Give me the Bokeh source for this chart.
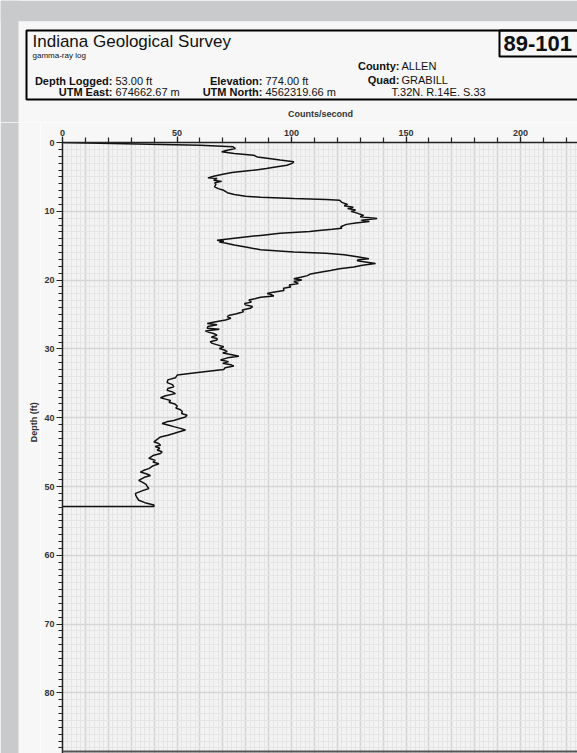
import math
from bokeh.plotting import figure
from bokeh.layouts import column, row
from bokeh.models import Range1d, SingleIntervalTicker, Label, Span
from bokeh.embed import file_html
from bokeh.resources import INLINE

# ---------------- data ----------------
depth_ft = [
    0.0, 0.4, 0.63, 0.87, 1.2, 1.36, 1.6, 1.84, 2.1, 2.3, 2.55, 2.8, 3.0, 3.3, 3.55, 3.78,
    4.05, 4.35, 4.6, 4.9, 5.14, 5.25, 5.5, 5.65, 5.85, 6.1, 6.45, 6.7, 6.95, 7.3, 7.56, 7.8,
    7.95, 8.14, 8.3, 8.4, 8.7, 9.0, 9.2, 9.4, 9.6, 9.8, 10.0, 10.3, 10.6, 10.8, 11.05, 11.3,
    11.5, 11.7, 11.9, 12.25, 12.45, 12.6, 12.8, 12.95, 13.2, 13.5, 13.9, 14.2, 14.35, 14.45,
    14.6, 14.9, 15.2, 15.6, 15.9, 16.1, 16.3, 16.6, 16.9, 17.05, 17.2, 17.4, 17.6, 17.85,
    18.1, 18.35, 18.6, 18.85, 19.1, 19.35, 19.6, 19.8, 20.0, 20.2, 20.5, 20.7, 21.0, 21.2,
    21.5, 21.75, 21.95, 22.1, 22.3, 22.5, 22.7, 22.9, 23.2, 23.4, 23.6, 23.85, 24.1, 24.35,
    24.6, 24.9, 25.1, 25.3, 25.55, 25.8, 26.05, 26.3, 26.5, 26.75, 26.99, 27.15, 27.4, 27.6,
    27.76, 28.0, 28.3, 28.5, 28.7, 28.95, 29.2, 29.45, 29.7, 29.95, 30.2, 30.4, 30.6, 30.8,
    31.06, 31.3, 31.6, 31.85, 32.1, 32.3, 32.5, 32.75, 33.0, 33.4, 33.8, 34.2, 34.5, 34.9,
    35.2, 35.5, 35.75, 36.0, 36.25, 36.5, 36.8, 37.1, 37.3, 37.5, 37.75, 38.0, 38.3, 38.6,
    38.85, 39.1, 39.4, 39.65, 39.9, 40.15, 40.4, 40.6, 40.85, 41.05, 41.3, 41.55, 41.8,
    42.05, 42.3, 42.55, 42.8, 43.1, 43.5, 43.75, 44.0, 44.2, 44.45, 44.7, 44.95, 45.2, 45.5,
    45.9, 46.2, 46.45, 46.7, 47.0, 47.4, 47.65, 47.9, 48.15, 48.4, 48.7, 49.1, 49.4, 49.7,
    50.0, 50.3, 50.6, 51.0, 51.3, 51.6, 52.0, 52.35, 52.7, 52.9, 52.9,
]
counts = [
    0, 60, 74.5, 75.5, 71, 69.5, 75, 83.5, 85, 89.4, 95, 101, 100.5, 98, 93, 89,
    83, 74, 70, 66, 63.5, 67.5, 66, 69.5, 66.5, 67, 66.4, 68, 70.4, 72, 75, 80,
    86.5, 101, 115, 121, 122, 124.5, 123, 127, 124.5, 128, 126, 129, 131.5, 130, 137.4, 130.5,
    134, 128, 124, 121.5, 122, 117.8, 112, 108, 95, 86.5, 75, 67.5, 70.5, 68.5,
    71, 75, 80, 86.5, 101, 115, 123, 128.7, 133.8, 129, 128.7, 133, 136.7, 131,
    127.2, 121, 117, 112.5, 108.3, 107, 104, 101, 104.5, 101, 103, 99, 99.6, 96.5,
    96.7, 92, 89.4, 91, 92.3, 86.5, 84, 81.4, 82.5, 79.5, 79.9, 83, 82, 78.5,
    79, 76, 73, 71.9, 73.5, 71.2, 67, 63.2, 67.5, 63.5, 63.2, 68.5, 62.4, 64,
    66, 67.5, 65, 67.5, 67.5, 64.5, 65.4, 68, 70.4, 68.5, 71, 71.9, 70, 73.5,
    77, 72, 69, 72.5, 70, 73.5, 74.8, 71, 70.4, 60, 50.1, 49.3, 46, 45.7,
    48, 48.6, 46, 45.7, 48, 49.3, 45, 42.8, 45, 47.2, 46.5, 49, 50.1, 49.5,
    51.5, 52.3, 52, 54.4, 53.7, 51, 48.6, 45.5, 43.5, 46, 48.6, 51.5, 53.7,
    51, 48.6, 46, 42.8, 41.5, 39.9, 42, 42.8, 40.5, 42.5, 41.3, 43.5, 42.8, 39.5,
    37.7, 40.5, 39.5, 42.1, 39.5, 37.7, 35.5, 34.0, 36.5, 38.4, 35.5, 33.3, 35, 36.5,
    37, 37.7, 35, 31.9, 32, 32.5, 33.3, 36, 39.9, 40, 0,
]

x_major_interval = 50      # labelled counts ticks
x_grid_interval = 10       # counts between darker grid lines
y_major_interval = 10      # labelled depth ticks

title_text = "Indiana Geological Survey"
subtitle_text = "gamma-ray log"
well_id = "89-101"
x_title = "Counts/second"
y_title = "Depth (ft)"
info_left_labels = ["Depth Logged:", "UTM East:"]
info_left_values = ["53.00 ft", "674662.67 m"]
info_mid_labels = ["Elevation:", "UTM North:"]
info_mid_values = ["774.00 ft", "4562319.66 m"]
info_right_labels = ["County:", "Quad:"]
info_right_values = ["ALLEN", "GRABILL"]
info_location = "T.32N. R.14E. S.33"

# ---------------- layout / style ----------------
FONT = "Liberation Sans"
W, H = 577, 753
HEAD_H = 122            # height of the header strip
SIDE_W = 40             # width of the left strip (holds the depth title)
PLOT_W = W - SIDE_W
PLOT_H = H - HEAD_H
AX_LEFT, AX_TOP = 22, 20
PX_PER_COUNT = 2.29
PX_PER_FT = 6.88
PAGE = "#f7f7f7"
PLOT_BG = "#f3f3f3"
OUTER = "#c9cacc"
INK = "#111111"
PAGE_LEFT, PAGE_TOP = 18, 20.7

def canvas_fig(w, h, x0, x1, y0, y1):
    f = figure(width=w, height=h, output_backend="svg", toolbar_location=None, title=None,
               x_range=Range1d(x0, x1), y_range=Range1d(y1, y0),
               x_axis_type=None, y_axis_type=None, min_border=0, frame_align=False,
               border_fill_color=PAGE, background_fill_color=PAGE, outline_line_color=None)
    f.grid.visible = False
    return f

def lab(f, x, y, text, size, bold=False, align="left", baseline="middle", color=INK, angle=0.0):
    f.add_layout(Label(x=x, y=y, text=text, text_font=FONT, text_font_size=f"{size}px",
                       text_font_style="bold" if bold else "normal",
                       text_align=align, text_baseline=baseline, text_color=color,
                       angle=angle))

# ---- header (page pixel coordinates) ----
head = canvas_fig(W, HEAD_H, 0, W, 0, HEAD_H)
head.quad(left=[0, 0], right=[W, PAGE_LEFT], top=[0, 0], bottom=[PAGE_TOP, HEAD_H],
          fill_color=OUTER, line_color=None)
head.quad(left=[26, 499], right=[600, 600], top=[30, 30], bottom=[99, 56],
          fill_alpha=0, line_color="#000000", line_width=2)

lab(head, 32, 40.5, title_text, 17)
lab(head, 32, 54.5, subtitle_text, 8)
lab(head, 503, 43, well_id, 22, bold=True)

row_y = [80, 91.7]
for i in range(2):
    lab(head, 112, row_y[i], info_left_labels[i], 11, bold=True, align="right")
    lab(head, 115, row_y[i], info_left_values[i], 11)
    lab(head, 262, row_y[i], info_mid_labels[i], 11, bold=True, align="right")
    lab(head, 265, row_y[i], info_mid_values[i], 11)
right_y = [65, 79.3]
for i in range(2):
    lab(head, 399, right_y[i], info_right_labels[i], 11, bold=True, align="right")
    lab(head, 401, right_y[i], info_right_values[i], 11)
lab(head, 391, 91.7, info_location, 11)
lab(head, 320, 113, x_title, 9, bold=True, align="center", color="#333333")

# ---- left strip ----
side = canvas_fig(SIDE_W, PLOT_H, 0, SIDE_W, HEAD_H, H)
side.quad(left=[0], right=[PAGE_LEFT], top=[HEAD_H], bottom=[H], fill_color=OUTER, line_color=None)
lab(side, 33, 421.7, y_title, 9, bold=True, align="center", color="#333333", angle=math.pi / 2)

# ---- the log plot ----
x_end = (PLOT_W - AX_LEFT) / PX_PER_COUNT
y_end = (PLOT_H - AX_TOP) / PX_PER_FT

p = figure(width=PLOT_W, height=PLOT_H, output_backend="svg", toolbar_location=None, title=None,
           x_range=Range1d(0, x_end), y_range=Range1d(y_end, 0),
           x_axis_location="above", frame_align=False,
           min_border_left=AX_LEFT, min_border_top=AX_TOP, min_border_right=0, min_border_bottom=0,
           border_fill_color=PAGE, background_fill_color=PLOT_BG, outline_line_color=None)

xa = p.xaxis[0]
xa.ticker = SingleIntervalTicker(interval=x_major_interval, num_minor_ticks=x_major_interval // x_grid_interval)
ya = p.yaxis[0]
ya.ticker = SingleIntervalTicker(interval=y_major_interval, num_minor_ticks=10)
for ax in (xa, ya):
    ax.axis_line_color = "#222222"
    ax.axis_line_width = 1.5
    ax.major_tick_line_color = "#222222"
    ax.minor_tick_line_color = "#222222"
    ax.major_tick_line_width = 1.2
    ax.minor_tick_line_width = 1.2
    ax.major_tick_in = 0
    ax.minor_tick_in = 0
    ax.major_label_text_font = FONT
    ax.major_label_text_font_size = "9px"
    ax.major_label_text_font_style = "bold"
    ax.major_label_text_color = "#333333"
xa.major_tick_out = 6
xa.minor_tick_out = 5
xa.major_label_standoff = 1
ya.major_tick_out = 6
ya.minor_tick_out = 4
ya.major_label_standoff = 2

p.xgrid.ticker = SingleIntervalTicker(interval=x_grid_interval, num_minor_ticks=5)
p.ygrid.ticker = SingleIntervalTicker(interval=y_major_interval, num_minor_ticks=10)
for g in (p.xgrid[0], p.ygrid[0]):
    g.grid_line_color = "#d5d5d5"
    g.grid_line_width = 1.6
    g.minor_grid_line_color = "#e5e5e5"
    g.minor_grid_line_width = 1

p.line(counts, depth_ft, line_color=INK, line_width=1.5)

# bottom border of the log frame
p.add_layout(Span(location=(751 - HEAD_H - AX_TOP) / PX_PER_FT, dimension="width",
                  line_color="#555555", line_width=2))

layout = column(head, row(side, p, spacing=0), spacing=0)
open("out.html", "w").write(file_html(layout, INLINE))
